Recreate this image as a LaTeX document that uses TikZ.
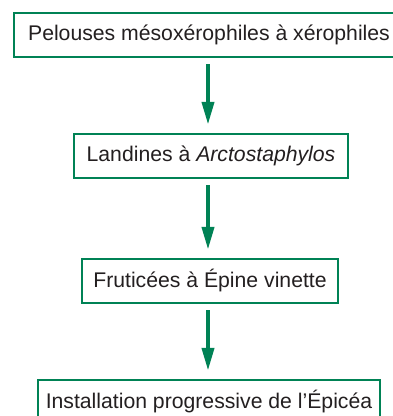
\documentclass[tikz,border=0pt]{standalone}
\usepackage{fontspec}
\setmainfont{Liberation Sans}
\usepackage{tikz}
\usetikzlibrary{arrows.meta}
\definecolor{SuccGreen}{RGB}{0,130,85}
\definecolor{SuccText}{RGB}{35,31,32}

\begin{document}
\begin{tikzpicture}[x=1pt, y=-1pt,
          box/.style={rectangle, draw=SuccGreen, line width=2.5pt, fill=white,
                      minimum height=44pt, inner xsep=4pt, text=SuccText,
                      font=\fontsize{21.2}{25}\selectfont},
          arr/.style={-{Triangle[length=23pt, width=12pt]}, line width=4pt,
                      SuccGreen, shorten <=6pt, shorten >=8pt}
        ]
        \useasboundingbox (0,0) rectangle (393,416);

        \node[box, minimum width=390pt] (pel) at (209,35)
              {Pelouses mésoxérophiles à xérophiles};
        \node[box, minimum width=274pt] (lan) at (211,156)
              {Landines à \textit{Arctostaphylos}};
        \node[box, minimum width=256pt] (fru) at (210,281)
              {Fruticées à Épine vinette};
        \node[box, minimum width=342pt] (epi) at (209,402)
              {Installation progressive de l’Épicéa};

        % succession arrows
        \draw[arr] (pel.south -| 208,0) -- (lan.north -| 208,0);
        \draw[arr] (lan.south -| 208,0) -- (fru.north -| 208,0);
        \draw[arr] (fru.south -| 208,0) -- (epi.north -| 208,0);
      \end{tikzpicture}
\end{document}
